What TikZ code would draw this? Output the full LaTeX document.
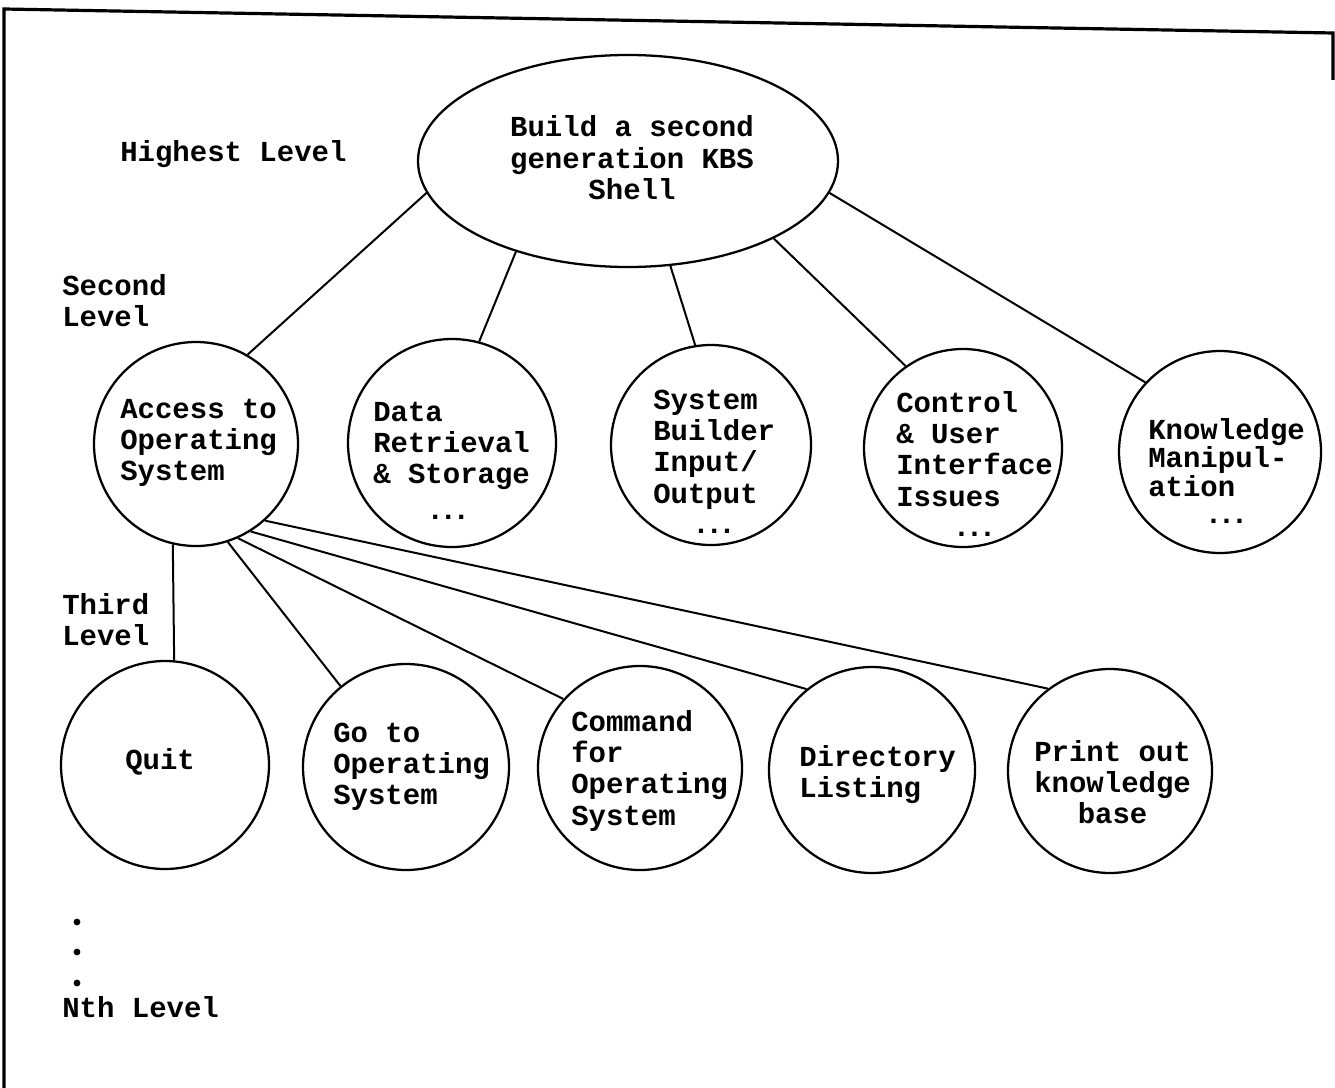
\documentclass[tikz,border=0pt]{standalone}
\usepackage{fontspec}
\newfontfamily\dispfont{Liberation Mono}
\usetikzlibrary{shapes.geometric}
\newcommand\ddd{.\kern-3.3pt.\kern-3.3pt.}
\newcommand\tl[1]{\begin{tabular}[t]{@{}l@{}}#1\end{tabular}}
\newcommand\tcc[1]{\begin{tabular}[t]{@{}c@{}}#1\end{tabular}}
\newcommand\dl{\multicolumn{1}{@{}c@{}}{\ddd}}
\begin{document}
\begin{tikzpicture}[x=0.75pt,y=-0.75pt,
  bub/.style={circle,draw,line width=1.7pt,inner sep=0pt,minimum size=#1*1.5pt},
  conn/.style={line width=1.5pt},
  txt/.style={inner sep=0pt,anchor=base west,font={\dispfont\bfseries\fontsize{21.75pt}{23.5pt}\selectfont}},
  ctxt/.style={txt,anchor=base}]
\useasboundingbox (0,0) rectangle (1335,1088);
% frame
\draw[line width=2.4pt,line join=miter] (4,1088) -- (4,9) -- (1333,33) -- (1333,80);

% top ellipse
\node[ellipse,draw,line width=1.7pt,inner sep=0pt,minimum width=420*0.75pt,minimum height=212*0.75pt] (top) at (628,161) {};
\node[ctxt] (toptxt) at (632,137) {\tcc{Build a second\\generation KBS\\Shell}};

% second level
\node[bub=102] (acc) at (196,444) {};
\node[bub=104] (dat) at (452,443) {};
\node[bub=100] (sys) at (711,445) {};
\node[bub=99]  (ctl) at (963,448) {};
\node[bub=101] (kno) at (1220,452) {};

\node[txt] (acct) at (120,418) {\tl{Access to\\Operating\\System}};
\node[txt] (datt) at (373,421) {\tl{Data\\Retrieval\\\& Storage\\[3pt]\hspace*{40pt}\ddd}};
\node[txt] (syst) at (653,409) {\tl{System\\Builder\\Input/\\Output\\[-1pt]\dl}};
\node[txt] (ctlt) at (896,412) {\tl{Control\\\& User\\Interface\\Issues\\[-1pt]\dl}};
\node[txt] (knot) at (1148,439) {\tl{Knowledge\\[-2pt]Manipul-\\[-2pt]ation\\[-3pt]\dl}};

% third level
\node[bub=104] (quit) at (165,765) {};
\node[bub=103] (goto) at (406,767) {};
\node[bub=102] (cmd)  at (640,768) {};
\node[bub=103] (dir)  at (872,770) {};
\node[bub=102] (prt)  at (1110,771) {};

\node[txt] (quitt) at (125,769) {Quit};
\node[txt] (gotot) at (333,742) {\tl{Go to\\Operating\\System}};
\node[txt] (cmdt)  at (571,731) {\tl{Command\\for\\Operating\\System}};
\node[txt] (dirt)  at (799,766) {\tl{Directory\\Listing}};
\node[txt] (prtt)  at (1034,761) {\tl{Print out\\knowledge\\\multicolumn{1}{@{}c@{}}{base}}};

% level labels
\node[txt] (hl) at (120,161) {Highest Level};
\node[txt] (sl) at (62,295) {\tl{Second\\Level}};
\node[txt] (tl) at (62,614) {\tl{Third\\Level}};
\node[txt] (nl) at (62,1017) {Nth Level};
\fill (77,922) circle (3.4);
\fill (77,952) circle (3.4);
\fill (77,983) circle (3.4);

% connectors
\draw[conn] (top.189) -- (acc.60);
\draw[conn] (top.219) -- (dat.75);
\draw[conn] (top.292) -- (sys.99);
\draw[conn] (top.332) -- (ctl.125);
\draw[conn] (top.351) -- (kno.137);

\draw[conn] (acc.257) -- (quit.85);
\draw[conn] (acc.288) -- (goto.129);
\draw[conn] (acc.294) -- (cmd.138);
\draw[conn] (acc.302) -- (dir.129);
\draw[conn] (acc.312) -- (prt.127);
\end{tikzpicture}
\end{document}
